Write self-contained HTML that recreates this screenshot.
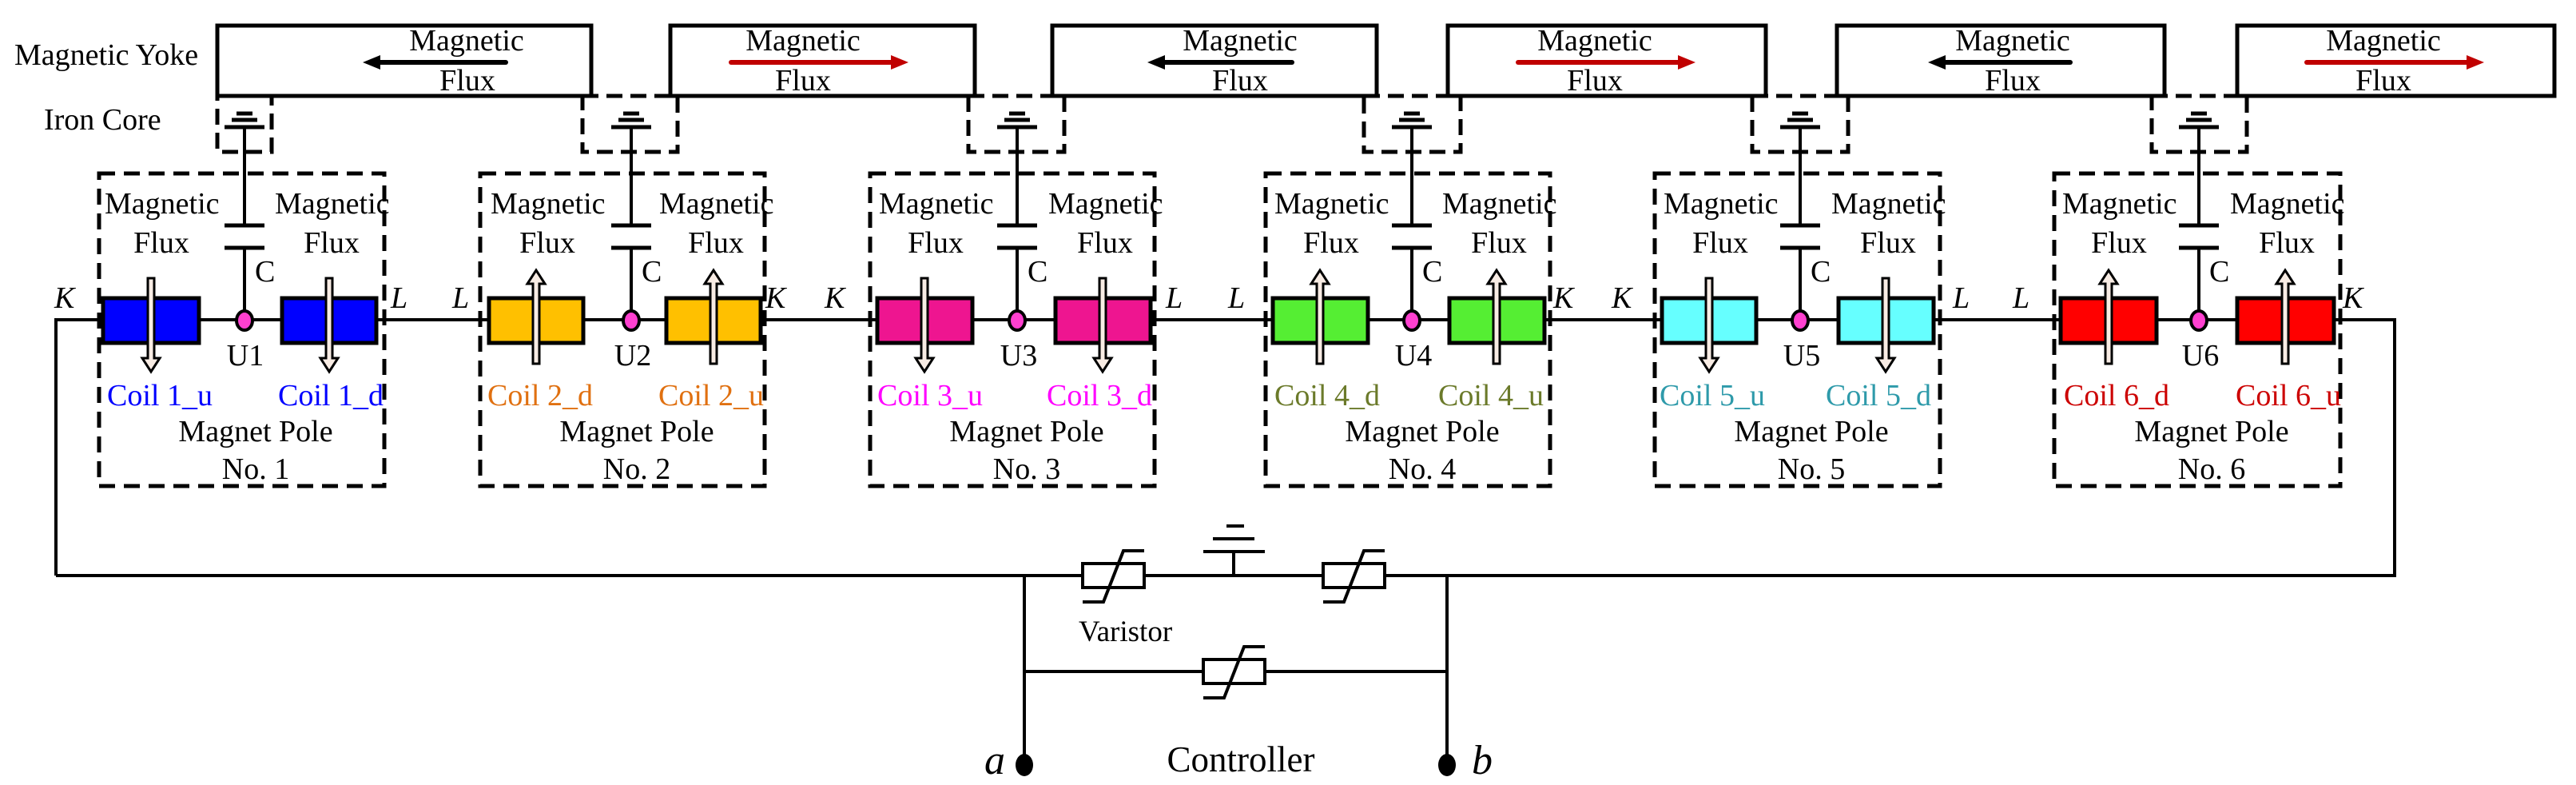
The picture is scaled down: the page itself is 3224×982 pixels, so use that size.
<!DOCTYPE html>
<html><head><meta charset="utf-8"><style>
html,body{margin:0;padding:0;background:#fff;}
svg{display:block;}
svg text{font-family:"Liberation Serif","Times New Roman","DejaVu Serif",serif;}
</style></head><body>
<svg width="3224" height="982" viewBox="0 0 3224 982" xmlns="http://www.w3.org/2000/svg" font-family="Liberation Serif, Times New Roman, serif">
<defs>
<polygon id="ad" points="-4,348 4,348 4,448 11,448 0,465 -11,448 -4,448" fill="#f8ece4" stroke="#000" stroke-width="3"/>
<polygon id="au" points="-4,455 4,455 4,355 11,355 0,338 -11,355 -4,355" fill="#f8ece4" stroke="#000" stroke-width="3"/>
<g id="stk" stroke="#000" fill="none">
<line x1="-10" y1="142" x2="10" y2="142" stroke-width="5"/>
<line x1="-16" y1="150" x2="16" y2="150" stroke-width="5"/>
<line x1="-25" y1="159" x2="25" y2="159" stroke-width="5"/>
<line x1="0" y1="159" x2="0" y2="282" stroke-width="4"/>
<line x1="-25" y1="282" x2="25" y2="282" stroke-width="5"/>
<line x1="-25" y1="310" x2="25" y2="310" stroke-width="5"/>
<line x1="0" y1="310" x2="0" y2="400" stroke-width="4"/>
</g>
<g id="var" stroke="#000" stroke-width="4" fill="#fff">
<rect x="0" y="-15" width="77" height="30"/>
<polyline points="0,33 26,33 51,-31 77,-31" fill="none"/>
</g>
<polygon id="ahk" points="0,-9 -22,0 0,9" />
</defs>

<g stroke="#000" stroke-width="4" fill="none">
<polyline points="70,720 70,400 2997,400 2997,720 70,720"/>
<line x1="1282" y1="720" x2="1282" y2="957"/>
<line x1="1811" y1="720" x2="1811" y2="957"/>
<line x1="1282" y1="840" x2="1811" y2="840"/>
<line x1="1544" y1="720" x2="1544" y2="690"/>
<line x1="1506" y1="690" x2="1583" y2="690"/>
<line x1="1518" y1="674" x2="1570" y2="674"/>
<line x1="1535" y1="658" x2="1557" y2="658"/>
</g>
<use href="#var" x="1355" y="720"/>
<use href="#var" x="1656" y="720"/>
<use href="#var" x="1506" y="840"/>
<ellipse cx="1282" cy="957" rx="11" ry="14" fill="#000"/>
<ellipse cx="1811" cy="957" rx="11" ry="14" fill="#000"/>
<text x="1232" y="968" font-size="52" font-style="italic">a</text>
<text x="1842" y="968" font-size="52" font-style="italic">b</text>
<text x="1553" y="965" font-size="45" text-anchor="middle">Controller</text>
<text x="1350" y="802" font-size="37">Varistor</text>

<g stroke="#000" stroke-width="5" fill="none" stroke-dasharray="20 10">
<rect x="272" y="120" width="68" height="70"/>
<rect x="729" y="120" width="119" height="70"/>
<rect x="1212" y="120" width="120" height="70"/>
<rect x="1707" y="120" width="121" height="70"/>
<rect x="2193" y="120" width="120" height="70"/>
<rect x="2693" y="120" width="119" height="70"/>
</g>
<g stroke="#000" stroke-width="5" fill="none" stroke-dasharray="20 11">
<rect x="124" y="217" width="357" height="391"/>
<rect x="601" y="217" width="356" height="391"/>
<rect x="1089" y="217" width="356" height="391"/>
<rect x="1584" y="217" width="356" height="391"/>
<rect x="2071" y="217" width="357" height="391"/>
<rect x="2571" y="217" width="358" height="391"/>
</g>

<g stroke="#000" stroke-width="5" fill="#fff">
<rect x="272" y="32" width="468" height="88"/>
<rect x="839" y="32" width="381" height="88"/>
<rect x="1317" y="32" width="406" height="88"/>
<rect x="1812" y="32" width="398" height="88"/>
<rect x="2299" y="32" width="410" height="88"/>
<rect x="2800" y="32" width="397" height="88"/>
</g>
<g stroke-width="6" stroke-linecap="round">
<line x1="633" y1="78" x2="470" y2="78" stroke="#000"/>
<line x1="915" y1="78" x2="1120" y2="78" stroke="#c00000"/>
<line x1="1617" y1="78" x2="1452" y2="78" stroke="#000"/>
<line x1="1900" y1="78" x2="2105" y2="78" stroke="#c00000"/>
<line x1="2591" y1="78" x2="2429" y2="78" stroke="#000"/>
<line x1="2887" y1="78" x2="3092" y2="78" stroke="#c00000"/>
</g>
<use href="#ahk" x="476" y="78" fill="#000"/>
<use href="#ahk" x="1458" y="78" fill="#000"/>
<use href="#ahk" x="2435" y="78" fill="#000"/>
<polygon points="1115,69 1137,78 1115,87" fill="#c00000"/>
<polygon points="2100,69 2122,78 2100,87" fill="#c00000"/>
<polygon points="3087,69 3109,78 3087,87" fill="#c00000"/>
<g font-size="38" text-anchor="middle">
<text x="584" y="63">Magnetic</text><text x="585" y="113">Flux</text>
<text x="1005" y="63">Magnetic</text><text x="1005" y="113">Flux</text>
<text x="1552" y="63">Magnetic</text><text x="1552" y="113">Flux</text>
<text x="1996" y="63">Magnetic</text><text x="1996" y="113">Flux</text>
<text x="2519" y="63">Magnetic</text><text x="2519" y="113">Flux</text>
<text x="2983" y="63">Magnetic</text><text x="2983" y="113">Flux</text>
</g>
<text x="18" y="81" font-size="38">Magnetic Yoke</text>
<text x="55" y="162" font-size="38">Iron Core</text>

<use href="#stk" x="306"/>
<use href="#stk" x="790"/>
<use href="#stk" x="1273"/>
<use href="#stk" x="1767"/>
<use href="#stk" x="2253"/>
<use href="#stk" x="2752"/>

<g stroke="#000" stroke-width="5">
<rect x="129" y="373" width="120" height="56" fill="#0000ff"/>
<rect x="353" y="373" width="118" height="56" fill="#0000ff"/>
<rect x="612" y="373" width="118" height="56" fill="#ffc000"/>
<rect x="834" y="373" width="118" height="56" fill="#ffc000"/>
<rect x="1098" y="373" width="119" height="56" fill="#ee1590"/>
<rect x="1321" y="373" width="119" height="56" fill="#ee1590"/>
<rect x="1593" y="373" width="119" height="56" fill="#55ee33"/>
<rect x="1814" y="373" width="119" height="56" fill="#55ee33"/>
<rect x="2080" y="373" width="118" height="56" fill="#66ffff"/>
<rect x="2301" y="373" width="119" height="56" fill="#66ffff"/>
<rect x="2579" y="373" width="120" height="56" fill="#ff0000"/>
<rect x="2800" y="373" width="121" height="56" fill="#ff0000"/>
</g>
<g fill="#ff40d0" stroke="#000" stroke-width="4">
<ellipse cx="306" cy="401" rx="10" ry="12"/>
<ellipse cx="790" cy="401" rx="10" ry="12"/>
<ellipse cx="1273" cy="401" rx="10" ry="12"/>
<ellipse cx="1767" cy="401" rx="10" ry="12"/>
<ellipse cx="2253" cy="401" rx="10" ry="12"/>
<ellipse cx="2752" cy="401" rx="10" ry="12"/>
</g>
<use href="#ad" x="189"/><use href="#ad" x="412"/>
<use href="#au" x="671"/><use href="#au" x="893"/>
<use href="#ad" x="1157"/><use href="#ad" x="1380"/>
<use href="#au" x="1652"/><use href="#au" x="1873"/>
<use href="#ad" x="2139"/><use href="#ad" x="2360"/>
<use href="#au" x="2639"/><use href="#au" x="2860"/>

<g font-size="38">
<text x="131" y="267">Magnetic</text><text x="344" y="267">Magnetic</text>
<text x="614" y="267">Magnetic</text><text x="825" y="267">Magnetic</text>
<text x="1100" y="267">Magnetic</text><text x="1312" y="267">Magnetic</text>
<text x="1595" y="267">Magnetic</text><text x="1805" y="267">Magnetic</text>
<text x="2082" y="267">Magnetic</text><text x="2292" y="267">Magnetic</text>
<text x="2581" y="267">Magnetic</text><text x="2791" y="267">Magnetic</text>
<text x="319" y="352">C</text><text x="803" y="352">C</text><text x="1286" y="352">C</text>
<text x="1780" y="352">C</text><text x="2266" y="352">C</text><text x="2765" y="352">C</text>
</g>
<g font-size="38" text-anchor="middle">
<text x="202" y="316">Flux</text><text x="415" y="316">Flux</text>
<text x="685" y="316">Flux</text><text x="896" y="316">Flux</text>
<text x="1171" y="316">Flux</text><text x="1383" y="316">Flux</text>
<text x="1666" y="316">Flux</text><text x="1876" y="316">Flux</text>
<text x="2153" y="316">Flux</text><text x="2363" y="316">Flux</text>
<text x="2652" y="316">Flux</text><text x="2862" y="316">Flux</text>
<text x="307" y="457">U1</text><text x="792" y="457">U2</text><text x="1275" y="457">U3</text>
<text x="1769" y="457">U4</text><text x="2255" y="457">U5</text><text x="2754" y="457">U6</text>
<text x="320" y="552">Magnet Pole</text><text x="320" y="599">No. 1</text>
<text x="797" y="552">Magnet Pole</text><text x="797" y="599">No. 2</text>
<text x="1285" y="552">Magnet Pole</text><text x="1285" y="599">No. 3</text>
<text x="1780" y="552">Magnet Pole</text><text x="1780" y="599">No. 4</text>
<text x="2267" y="552">Magnet Pole</text><text x="2267" y="599">No. 5</text>
<text x="2768" y="552">Magnet Pole</text><text x="2768" y="599">No. 6</text>
</g>
<g font-size="38">
<text x="134" y="507" fill="#0000ff">Coil 1_u</text><text x="348" y="507" fill="#0000ff">Coil 1_d</text>
<text x="610" y="507" fill="#e07010">Coil 2_d</text><text x="824" y="507" fill="#e07010">Coil 2_u</text>
<text x="1098" y="507" fill="#ff00ff">Coil 3_u</text><text x="1310" y="507" fill="#ff00ff">Coil 3_d</text>
<text x="1595" y="507" fill="#6b7a2a">Coil 4_d</text><text x="1800" y="507" fill="#6b7a2a">Coil 4_u</text>
<text x="2077" y="507" fill="#2e9aaa">Coil 5_u</text><text x="2285" y="507" fill="#2e9aaa">Coil 5_d</text>
<text x="2583" y="507" fill="#cc0000">Coil 6_d</text><text x="2798" y="507" fill="#cc0000">Coil 6_u</text>
</g>
<g font-size="38" font-style="italic">
<text x="68" y="385">K</text><text x="489" y="385">L</text>
<text x="566" y="385">L</text><text x="958" y="385">K</text>
<text x="1032" y="385">K</text><text x="1459" y="385">L</text>
<text x="1537" y="385">L</text><text x="1944" y="385">K</text>
<text x="2017" y="385">K</text><text x="2444" y="385">L</text>
<text x="2519" y="385">L</text><text x="2932" y="385">K</text>
</g>
</svg>
</body></html>
